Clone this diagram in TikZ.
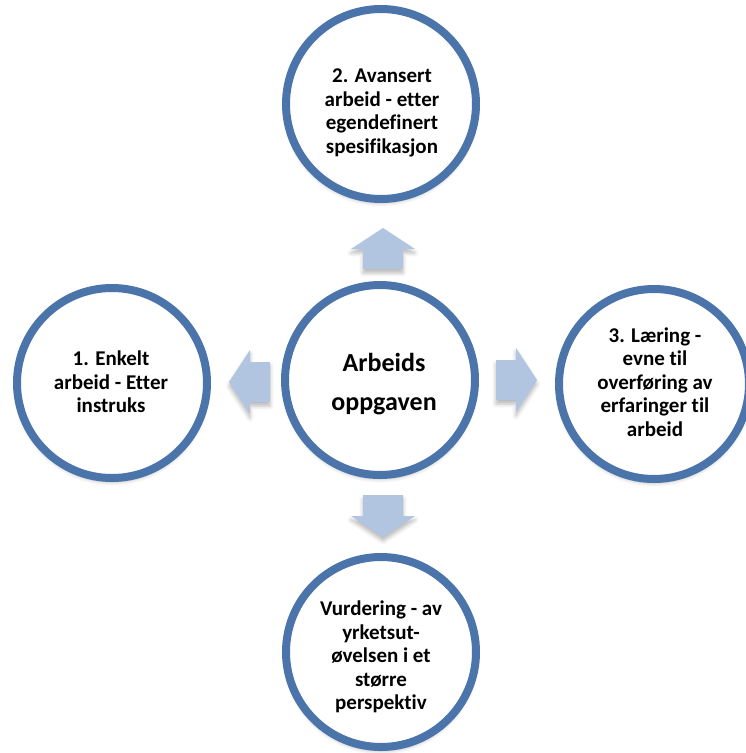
\documentclass[tikz,border=0pt]{standalone}
\usepackage{fontspec}
\setmainfont{Carlito}[RawFeature={-liga;-clig;-dlig}]
\usetikzlibrary{shadows.blur}
\definecolor{ringblue}{HTML}{4A74AA}
\definecolor{arrowblue}{HTML}{B1C5E1}
\begin{document}
\begin{tikzpicture}[x=1pt,y=-1pt,
  softshadow/.style={blur shadow={shadow xshift=0pt, shadow yshift=-4pt,
      shadow blur radius=4pt, shadow opacity=28}},
  bubble/.style={circle, draw=ringblue, line width=8pt, fill=white,
      minimum size=190pt, inner sep=0pt, softshadow},
  caption/.style={align=center, inner sep=0pt,
      font=\bfseries\fontsize{21}{23.5}\selectfont},
  bigcaption/.style={align=center, inner sep=0pt,
      font=\bfseries\fontsize{26}{39}\selectfont},
  blockarrow/.style={fill=arrowblue, draw=none, softshadow}
]
\useasboundingbox (0,0) rectangle (745,753);

% block arrows pointing outward from the centre
\fill[blockarrow] (363,269) -- (363,249) -- (351,249) -- (383,228) -- (415,249) -- (403,249) -- (403,269) -- cycle;
\fill[blockarrow] (270,362) -- (250,362) -- (250,350) -- (229,382) -- (250,414) -- (250,402) -- (270,402) -- cycle;
\fill[blockarrow] (496,360) -- (516,360) -- (516,348) -- (537,380) -- (516,412) -- (516,400) -- (496,400) -- cycle;
\fill[blockarrow] (363,495) -- (403,495) -- (403,516) -- (415,516) -- (383,537) -- (351,516) -- (363,516) -- cycle;

% circles
\node[bubble] (mid)   at (380,380) {};
\node[bubble] (top)   at (381,104) {};
\node[bubble] (left)  at (112,383) {};
\node[bubble] (right) at (654,384) {};
\node[bubble] (down)  at (381,652) {};

% captions
\node[bigcaption] (midtxt) at (384,384) {Arbeids\\oppgaven};
\node[caption] (toptxt) at (382,113) {2. Avansert\\arbeid - etter\\egendefinert\\spesifikasjon};
\node[caption] (lefttxt) at (111,382) {1. Enkelt\\arbeid - Etter\\instruks};
\node[caption] (righttxt) at (655,382) {3. Læring -\\evne til\\overføring av\\erfaringer til\\arbeid};
\node[caption] (downtxt) at (381,657) {Vurdering - av\\yrketsut-\\øvelsen i et\\større\\perspektiv};
\end{tikzpicture}
\end{document}
